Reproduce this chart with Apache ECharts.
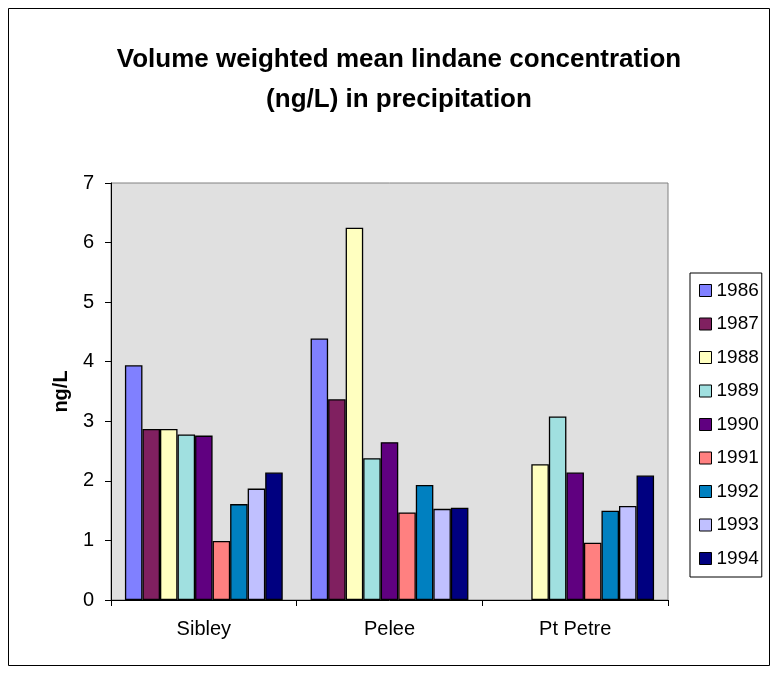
<!DOCTYPE html>
<html><head><meta charset="utf-8">
<script src="https://cdn.jsdelivr.net/npm/echarts@6/dist/echarts.min.js"></script>
<style>html,body{margin:0;padding:0;background:#fff}#c{width:771px;height:675px}</style>
</head><body><div id="c"></div>
<script>
const categories = ['Sibley', 'Pelee', 'Pt Petre'];
const years = ['1986','1987','1988','1989','1990','1991','1992','1993','1994'];
const v1986 = [3.94, 4.39, null];
const v1987 = [2.87, 3.37, null];
const v1988 = [2.87, 6.25, 2.28];
const v1989 = [2.78, 2.38, 3.08];
const v1990 = [2.76, 2.65, 2.14];
const v1991 = [0.99, 1.47, 0.96];
const v1992 = [1.61, 1.93, 1.50];
const v1993 = [1.87, 1.53, 1.58];
const v1994 = [2.14, 1.55, 2.09];
const yTicks = [0,1,2,3,4,5,6,7];
const colors = ['#8080FF','#802060','#FFFFC0','#A0E0E0','#600080','#FF8080','#0080C0','#C0C0FF','#000080'];
const allValues = [v1986,v1987,v1988,v1989,v1990,v1991,v1992,v1993,v1994];

const chart = echarts.init(document.getElementById('c'), null, {renderer:'canvas'});
const font = 'Liberation Sans, Arial, sans-serif';
chart.setOption({
  animation: false,
  backgroundColor: '#ffffff',
  textStyle: {fontFamily: font},
  graphic: [{type:'rect', shape:{x:8.5,y:8.5,width:761,height:657}, style:{fill:'none', stroke:'#000', lineWidth:1}, z:-1}],
  title: {
    text: 'Volume weighted mean lindane concentration\n(ng/L) in precipitation',
    left: 394, top: 35, textAlign: 'center',
    textStyle: {fontFamily: font, fontSize: 26, fontWeight: 'bold', color:'#000', lineHeight: 40}
  },
  legend: {
    orient: 'vertical', left: 690, top: 273,
    data: years,
    itemWidth: 12, itemHeight: 12, itemGap: 14.5,
    padding: [8, 3, 9, 9],
    borderColor: '#000', borderWidth: 1,
    icon: 'rect',
    textStyle: {fontFamily: font, fontSize: 19, lineHeight: 19, color:'#000'},
    itemStyle: {borderColor:'#000', borderWidth:1}
  },
  grid: {left: 111, top: 183, width: 557, height: 417, show: true, backgroundColor: '#E0E0E0', borderColor: '#808080', borderWidth: 1},
  xAxis: {
    type: 'category', data: categories,
    axisLine: {lineStyle:{color:'#000', width:1}},
    axisTick: {show:true, length: 6, lineStyle:{color:'#000'}},
    axisLabel: {fontFamily: font, fontSize: 20, color:'#000', margin: 19}
  },
  yAxis: {
    type: 'value', min: 0, max: 7, interval: 1,
    name: 'ng/L', nameLocation: 'middle', nameGap: 38,
    nameTextStyle: {fontFamily: font, fontSize: 20, fontWeight:'bold', color:'#000'},
    axisLine: {show:true, lineStyle:{color:'#000', width:1}},
    axisTick: {show:true, length: 6, lineStyle:{color:'#000'}},
    splitLine: {show:false},
    axisLabel: {fontFamily: font, fontSize: 20, color:'#000', margin: 17, formatter: v => yTicks.includes(v) ? String(v) : ''}
  },
  series: years.map((y,i) => ({
    name: y, type: 'bar', data: allValues[i],
    barGap: '0%', barCategoryGap: '15%',
    itemStyle: {color: colors[i], borderColor:'#000', borderWidth: 1.3}
  }))
});
</script></body></html>
